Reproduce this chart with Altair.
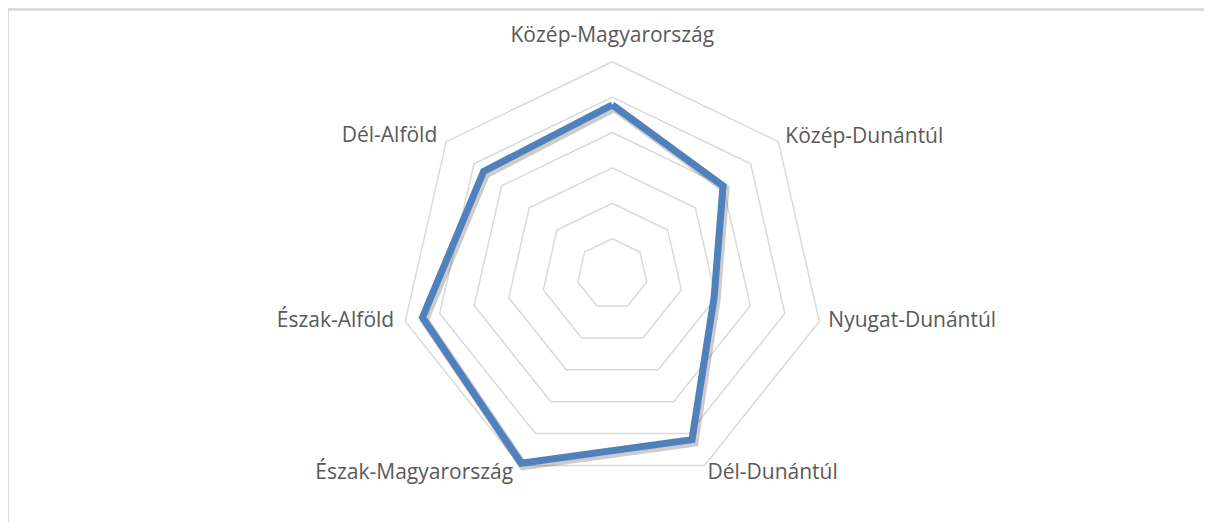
import math
import altair as alt
import pandas as pd

# ---- data ----
CATEGORIES = ["Közép-Magyarország", "Közép-Dunántúl", "Nyugat-Dunántúl", "Dél-Dunántúl",
              "Észak-Magyarország", "Észak-Alföld", "Dél-Alföld"]
VALUES = [4.78, 4.0, 2.95, 5.19, 5.93, 5.5, 4.65]
RINGS = [1, 2, 3, 4, 5, 6]

N = len(CATEGORIES)
RMAX = max(RINGS)


def pos(i, r):
    a = 2 * math.pi * i / N
    return r * math.sin(a), r * math.cos(a)


# grid heptagons
grid_rows = []
for r in RINGS:
    for k in range(N + 1):
        x, y = pos(k % N, r)
        grid_rows.append({"ring": r, "k": k, "x": x, "y": y})
grid_df = pd.DataFrame(grid_rows)

# data polygon (closed)
line_rows = []
for k in range(N + 1):
    x, y = pos(k % N, VALUES[k % N])
    line_rows.append({"k": k, "x": x, "y": y, "cat": CATEGORIES[k % N]})
line_df = pd.DataFrame(line_rows)

# label anchors at outer ring
lab_rows = []
for i, c in enumerate(CATEGORIES):
    x, y = pos(i, RMAX)
    lab_rows.append({"i": i, "cat": c, "x": x, "y": y})
lab_df = pd.DataFrame(lab_rows)

W, H = 1196, 515
CX, CY = 604.3, 266.1   # center in plot pixels
U = 35.4                # pixels per unit
xdom = [-CX / U, (W - CX) / U]
ydom = [-(H - CY) / U, CY / U]

xs = alt.X("x:Q", scale=alt.Scale(domain=xdom, nice=False, zero=False), axis=None)
ys = alt.Y("y:Q", scale=alt.Scale(domain=ydom, nice=False, zero=False), axis=None)

grid = alt.Chart(grid_df).mark_line(color="#d9d9d9", strokeWidth=1.5, clip=False).encode(
    x=xs, y=ys, detail="ring:N", order="k:Q")

shadow = alt.Chart(line_df).mark_line(color="#000000", opacity=0.2, strokeWidth=9,
                                      strokeJoin="miter", clip=False).encode(
    x=xs, y=ys, order="k:Q", xOffset=alt.value(2), yOffset=alt.value(2.5))

line = alt.Chart(line_df).mark_line(color="#4f81bd", strokeWidth=7, strokeJoin="miter",
                                    clip=False).encode(x=xs, y=ys, order="k:Q")

FONT = "Open Sans"
TXT = "#595959"
FS = 21

label_specs = [
    (0, dict(align="center", baseline="alphabetic", dx=0, dy=-20)),
    (1, dict(align="left", baseline="alphabetic", dx=7, dy=1)),
    (2, dict(align="left", baseline="middle", dx=9, dy=0)),
    (3, dict(align="left", baseline="top", dx=3, dy=-3)),
    (4, dict(align="right", baseline="top", dx=-7, dy=-3)),
    (5, dict(align="right", baseline="middle", dx=-11, dy=0)),
    (6, dict(align="right", baseline="alphabetic", dx=-9, dy=0)),
]
labels = []
for i, st in label_specs:
    labels.append(
        alt.Chart(lab_df).transform_filter(alt.datum.i == i).mark_text(
            font=FONT, fontSize=FS, color=TXT, clip=False, **st
        ).encode(x=xs, y=ys, text="cat:N")
    )

border_top = alt.Chart(lab_df).mark_rule(color="#d9d9d9", strokeWidth=1.5).encode(
    x=alt.value(-1.5), x2=alt.value(W + 20), y=alt.value(1.5))
border_left = alt.Chart(lab_df).mark_rule(color="#d9d9d9", strokeWidth=1.5).encode(
    x=alt.value(-1.5), y=alt.value(1.5), y2=alt.value(H + 20))

chart = alt.layer(border_top, border_left, grid, shadow, line, *labels).properties(
    width=W, height=H, autosize=alt.AutoSizeParams(type="none"), padding=0
).configure_view(stroke=None).configure(background="white")

chart.save("out.html", embed_options={"renderer": "svg", "actions": False})
